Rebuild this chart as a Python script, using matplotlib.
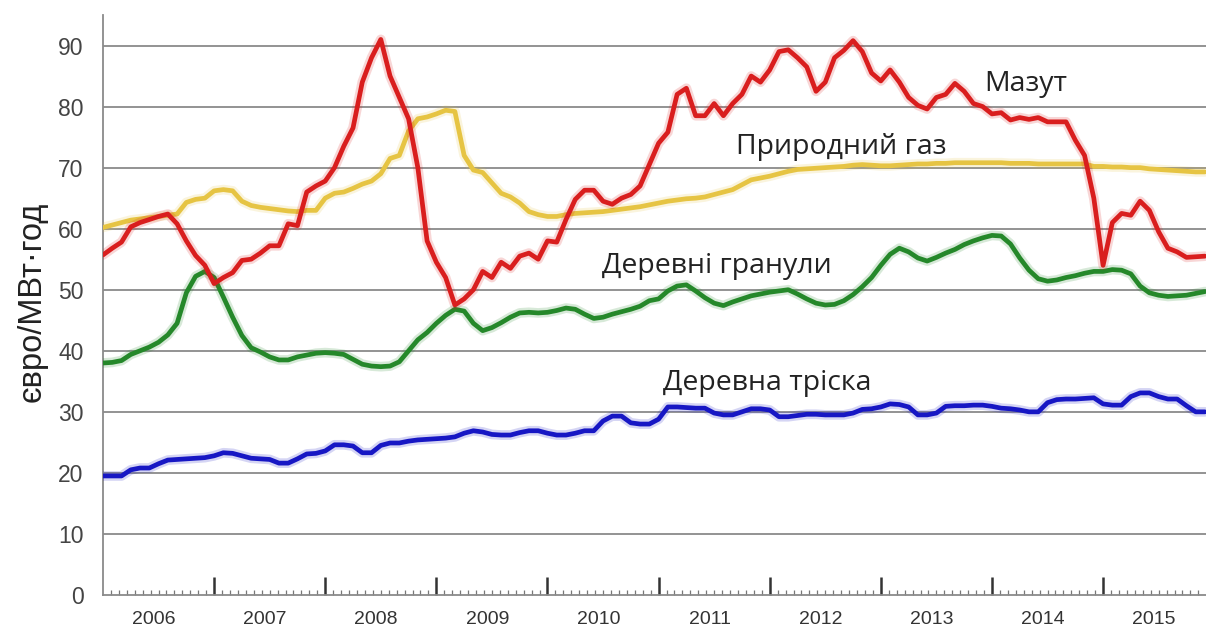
import numpy as np
import matplotlib
matplotlib.use("Agg")
import matplotlib.pyplot as plt
from matplotlib.ticker import FixedLocator, NullFormatter

# ---------------- data (monthly, Jan 2006 .. Dec 2015) ----------------
years = [2006, 2007, 2008, 2009, 2010, 2011, 2012, 2013, 2014, 2015]

mazut = [55.7, 56.8, 57.8, 60.3, 61.0, 61.5, 62.0, 62.4, 60.8, 58.0, 55.6, 54.0,
         51.0, 52.0, 52.8, 54.8, 55.0, 56.0, 57.2, 57.2, 60.8, 60.5, 66.0, 67.0,
         67.8, 70.0, 73.5, 76.5, 84.0, 88.0, 91.0, 85.0, 81.5, 78.0, 70.0, 58.0,
         54.5, 52.0, 47.5, 48.5, 50.0, 53.0, 52.0, 54.5, 53.5, 55.5, 56.0, 55.0,
         58.0, 57.8, 61.5, 64.8, 66.3, 66.3, 64.5, 64.0, 65.0, 65.6, 67.0, 70.5,
         74.0, 75.8, 82.0, 83.0, 78.5, 78.5, 80.5, 78.5, 80.5, 82.0, 85.0, 84.0,
         86.0, 89.0, 89.3, 88.0, 86.5, 82.5, 84.0, 88.0, 89.2, 90.8, 89.0, 85.5,
         84.2, 86.0, 84.0, 81.5, 80.2, 79.6, 81.5, 82.0, 83.8, 82.5, 80.5, 80.0,
         78.8, 79.0, 77.8, 78.2, 77.9, 78.2, 77.5, 77.5, 77.5, 74.5, 72.0, 65.0,
         54.0, 61.0, 62.5, 62.2, 64.5, 63.0, 59.5, 56.8, 56.2, 55.3, 55.4, 55.5]

gas = [60.2, 60.6, 61.0, 61.4, 61.6, 61.8, 62.0, 62.2, 62.4, 64.3, 64.8, 65.0,
       66.2, 66.4, 66.2, 64.5, 63.8, 63.5, 63.3, 63.1, 62.9, 62.8, 63.0, 63.0,
       65.0, 65.8, 66.0, 66.6, 67.3, 67.8, 69.0, 71.5, 72.0, 76.0, 78.0, 78.3,
       78.8, 79.4, 79.2, 72.0, 69.6, 69.2, 67.5, 65.8, 65.2, 64.2, 62.8, 62.3,
       62.0, 62.0, 62.3, 62.5, 62.6, 62.7, 62.8, 63.0, 63.2, 63.4, 63.6, 63.9,
       64.2, 64.5, 64.7, 64.9, 65.0, 65.2, 65.6, 66.0, 66.4, 67.2, 68.0, 68.3,
       68.6, 69.0, 69.4, 69.7, 69.8, 69.9, 70.0, 70.1, 70.2, 70.4, 70.5, 70.4,
       70.3, 70.3, 70.4, 70.5, 70.6, 70.6, 70.7, 70.7, 70.8, 70.8, 70.8, 70.8,
       70.8, 70.8, 70.7, 70.7, 70.7, 70.6, 70.6, 70.6, 70.6, 70.6, 70.6, 70.2,
       70.2, 70.1, 70.1, 70.0, 70.0, 69.8, 69.7, 69.6, 69.5, 69.4, 69.3, 69.3]

pellets = [38.0, 38.1, 38.4, 39.4, 40.0, 40.6, 41.4, 42.6, 44.5, 49.5, 52.2, 53.0,
           52.0, 48.8, 45.5, 42.5, 40.5, 39.8, 39.0, 38.5, 38.5, 39.0, 39.3, 39.6,
           39.7, 39.6, 39.4, 38.6, 37.8, 37.5, 37.4, 37.5, 38.2, 40.0, 41.8, 43.0,
           44.5, 45.8, 46.8, 46.5, 44.5, 43.3, 43.8, 44.6, 45.5, 46.2, 46.3, 46.2,
           46.3, 46.6, 47.0, 46.8, 46.0, 45.3, 45.5, 46.0, 46.4, 46.8, 47.3, 48.2,
           48.5, 49.8, 50.6, 50.8, 49.8, 48.7, 47.8, 47.4, 48.0, 48.5, 49.0, 49.3,
           49.6, 49.8, 50.0, 49.3, 48.5, 47.8, 47.5, 47.6, 48.2, 49.2, 50.5, 52.0,
           54.0, 55.8, 56.8, 56.2, 55.2, 54.7, 55.3, 56.0, 56.6, 57.4, 58.0, 58.5,
           58.9, 58.8, 57.5, 55.2, 53.2, 51.8, 51.4, 51.6, 52.0, 52.3, 52.7, 53.0,
           53.0, 53.3, 53.2, 52.6, 50.6, 49.5, 49.1, 48.9, 49.0, 49.1, 49.4, 49.7]

chips = [19.5, 19.5, 19.5, 20.5, 20.8, 20.8, 21.5, 22.1, 22.2, 22.3, 22.4, 22.5,
         22.8, 23.3, 23.2, 22.8, 22.4, 22.3, 22.2, 21.6, 21.6, 22.3, 23.1, 23.2,
         23.6, 24.6, 24.6, 24.4, 23.3, 23.3, 24.5, 24.9, 24.9, 25.2, 25.4, 25.5,
         25.6, 25.7, 25.9, 26.5, 26.9, 26.7, 26.3, 26.2, 26.2, 26.6, 26.9, 26.9,
         26.5, 26.2, 26.2, 26.5, 26.9, 26.9, 28.5, 29.3, 29.3, 28.2, 28.0, 28.0,
         28.8, 30.8, 30.8, 30.7, 30.6, 30.6, 29.8, 29.5, 29.5, 30.0, 30.5, 30.5,
         30.3, 29.2, 29.2, 29.4, 29.6, 29.6, 29.5, 29.5, 29.5, 29.8, 30.4, 30.5,
         30.8, 31.3, 31.2, 30.8, 29.5, 29.5, 29.8, 30.9, 31.0, 31.0, 31.1, 31.1,
         30.9, 30.6, 30.5, 30.3, 30.0, 30.0, 31.5, 32.0, 32.1, 32.1, 32.2, 32.3,
         31.3, 31.1, 31.1, 32.5, 33.1, 33.1, 32.5, 32.1, 32.1, 31.0, 30.0, 30.0]

series_labels = ["Мазут", "Природний газ", "Деревні гранули", "Деревна тріска"]
y_ticks = [0, 10, 20, 30, 40, 50, 60, 70, 80, 90]
y_label = "євро/МВт·год"

# ---------------- figure ----------------
W, H = 1206, 627
fig = plt.figure(figsize=(W / 100, H / 100), dpi=100)
ax = fig.add_axes([103 / W, 32 / H, (W - 103) / W, 580 / H])

months = np.arange(len(mazut))

colors = {
    "mazut": "#d91e1e",
    "gas": "#e6c443",
    "pellets": "#25882a",
    "chips": "#1717c4",
}

# grid
for v in y_ticks[1:]:
    ax.axhline(v, color="#8a8a8a", lw=1.3, zorder=1)

def draw(vals, c, z):
    ax.plot(months, vals, color=c, lw=7, alpha=0.18, solid_joinstyle="round",
            solid_capstyle="round", zorder=z)
    ax.plot(months, vals, color=c, lw=3.4, solid_joinstyle="round",
            solid_capstyle="round", zorder=z + 0.5)

draw(chips, colors["chips"], 3)
draw(pellets, colors["pellets"], 4)
draw(gas, colors["gas"], 5)
draw(mazut, colors["mazut"], 6)

xmax = (W - 103) / 9.26
ax.set_xlim(0, xmax)
ax.set_ylim(0, 95)

# spines
for s in ["top", "right"]:
    ax.spines[s].set_visible(False)
ax.spines["left"].set_color("#8a8a8a")
ax.spines["left"].set_linewidth(1.3)
ax.spines["bottom"].set_color("#8a8a8a")
ax.spines["bottom"].set_linewidth(1.3)

# y ticks
ax.set_yticks(y_ticks)
ax.set_yticklabels([str(v) for v in y_ticks], fontsize=16.5,
                   fontfamily="Liberation Sans", color="#444444")
ax.tick_params(axis="y", length=0, pad=14)

# x ticks: yearly major (no labels), finer minor ticks
ax.xaxis.set_major_locator(FixedLocator([12 * k for k in range(1, len(years))]))
ax.xaxis.set_major_formatter(NullFormatter())
minor = [12 * k + j * 12 / 14 for k in range(len(years)) for j in range(1, 14)]
ax.xaxis.set_minor_locator(FixedLocator([m for m in minor if m < xmax]))
ax.tick_params(axis="x", which="major", direction="in", length=13, width=1.8,
               color="#333333")
ax.tick_params(axis="x", which="minor", direction="in", length=3.5, width=0.9,
               color="#777777")

for k, yr in enumerate(years):
    ax.text(12 * k + 5.5, -24 / 580, str(yr), transform=ax.get_xaxis_transform(),
            ha="center", va="center", fontsize=14, fontfamily="Liberation Sans",
            color="#333333")

# y label
fig.text(32 / W, 1 - 302 / H, y_label, rotation=90, ha="center", va="center",
         fontsize=23.5, fontfamily="Liberation Sans", color="#222222")

# series annotations
ann_font = dict(fontsize=20.5, fontfamily="Open Sans", color="#222222",
                ha="left", va="baseline", zorder=10)
ax.text(95.2, 82.5, series_labels[0], **ann_font)
ax.text(68.4, 72.3, series_labels[1], **ann_font)
ax.text(53.9, 52.8, series_labels[2], **ann_font)
ax.text(60.5, 33.6, series_labels[3], **ann_font)

fig.savefig("out.png", dpi=100)
